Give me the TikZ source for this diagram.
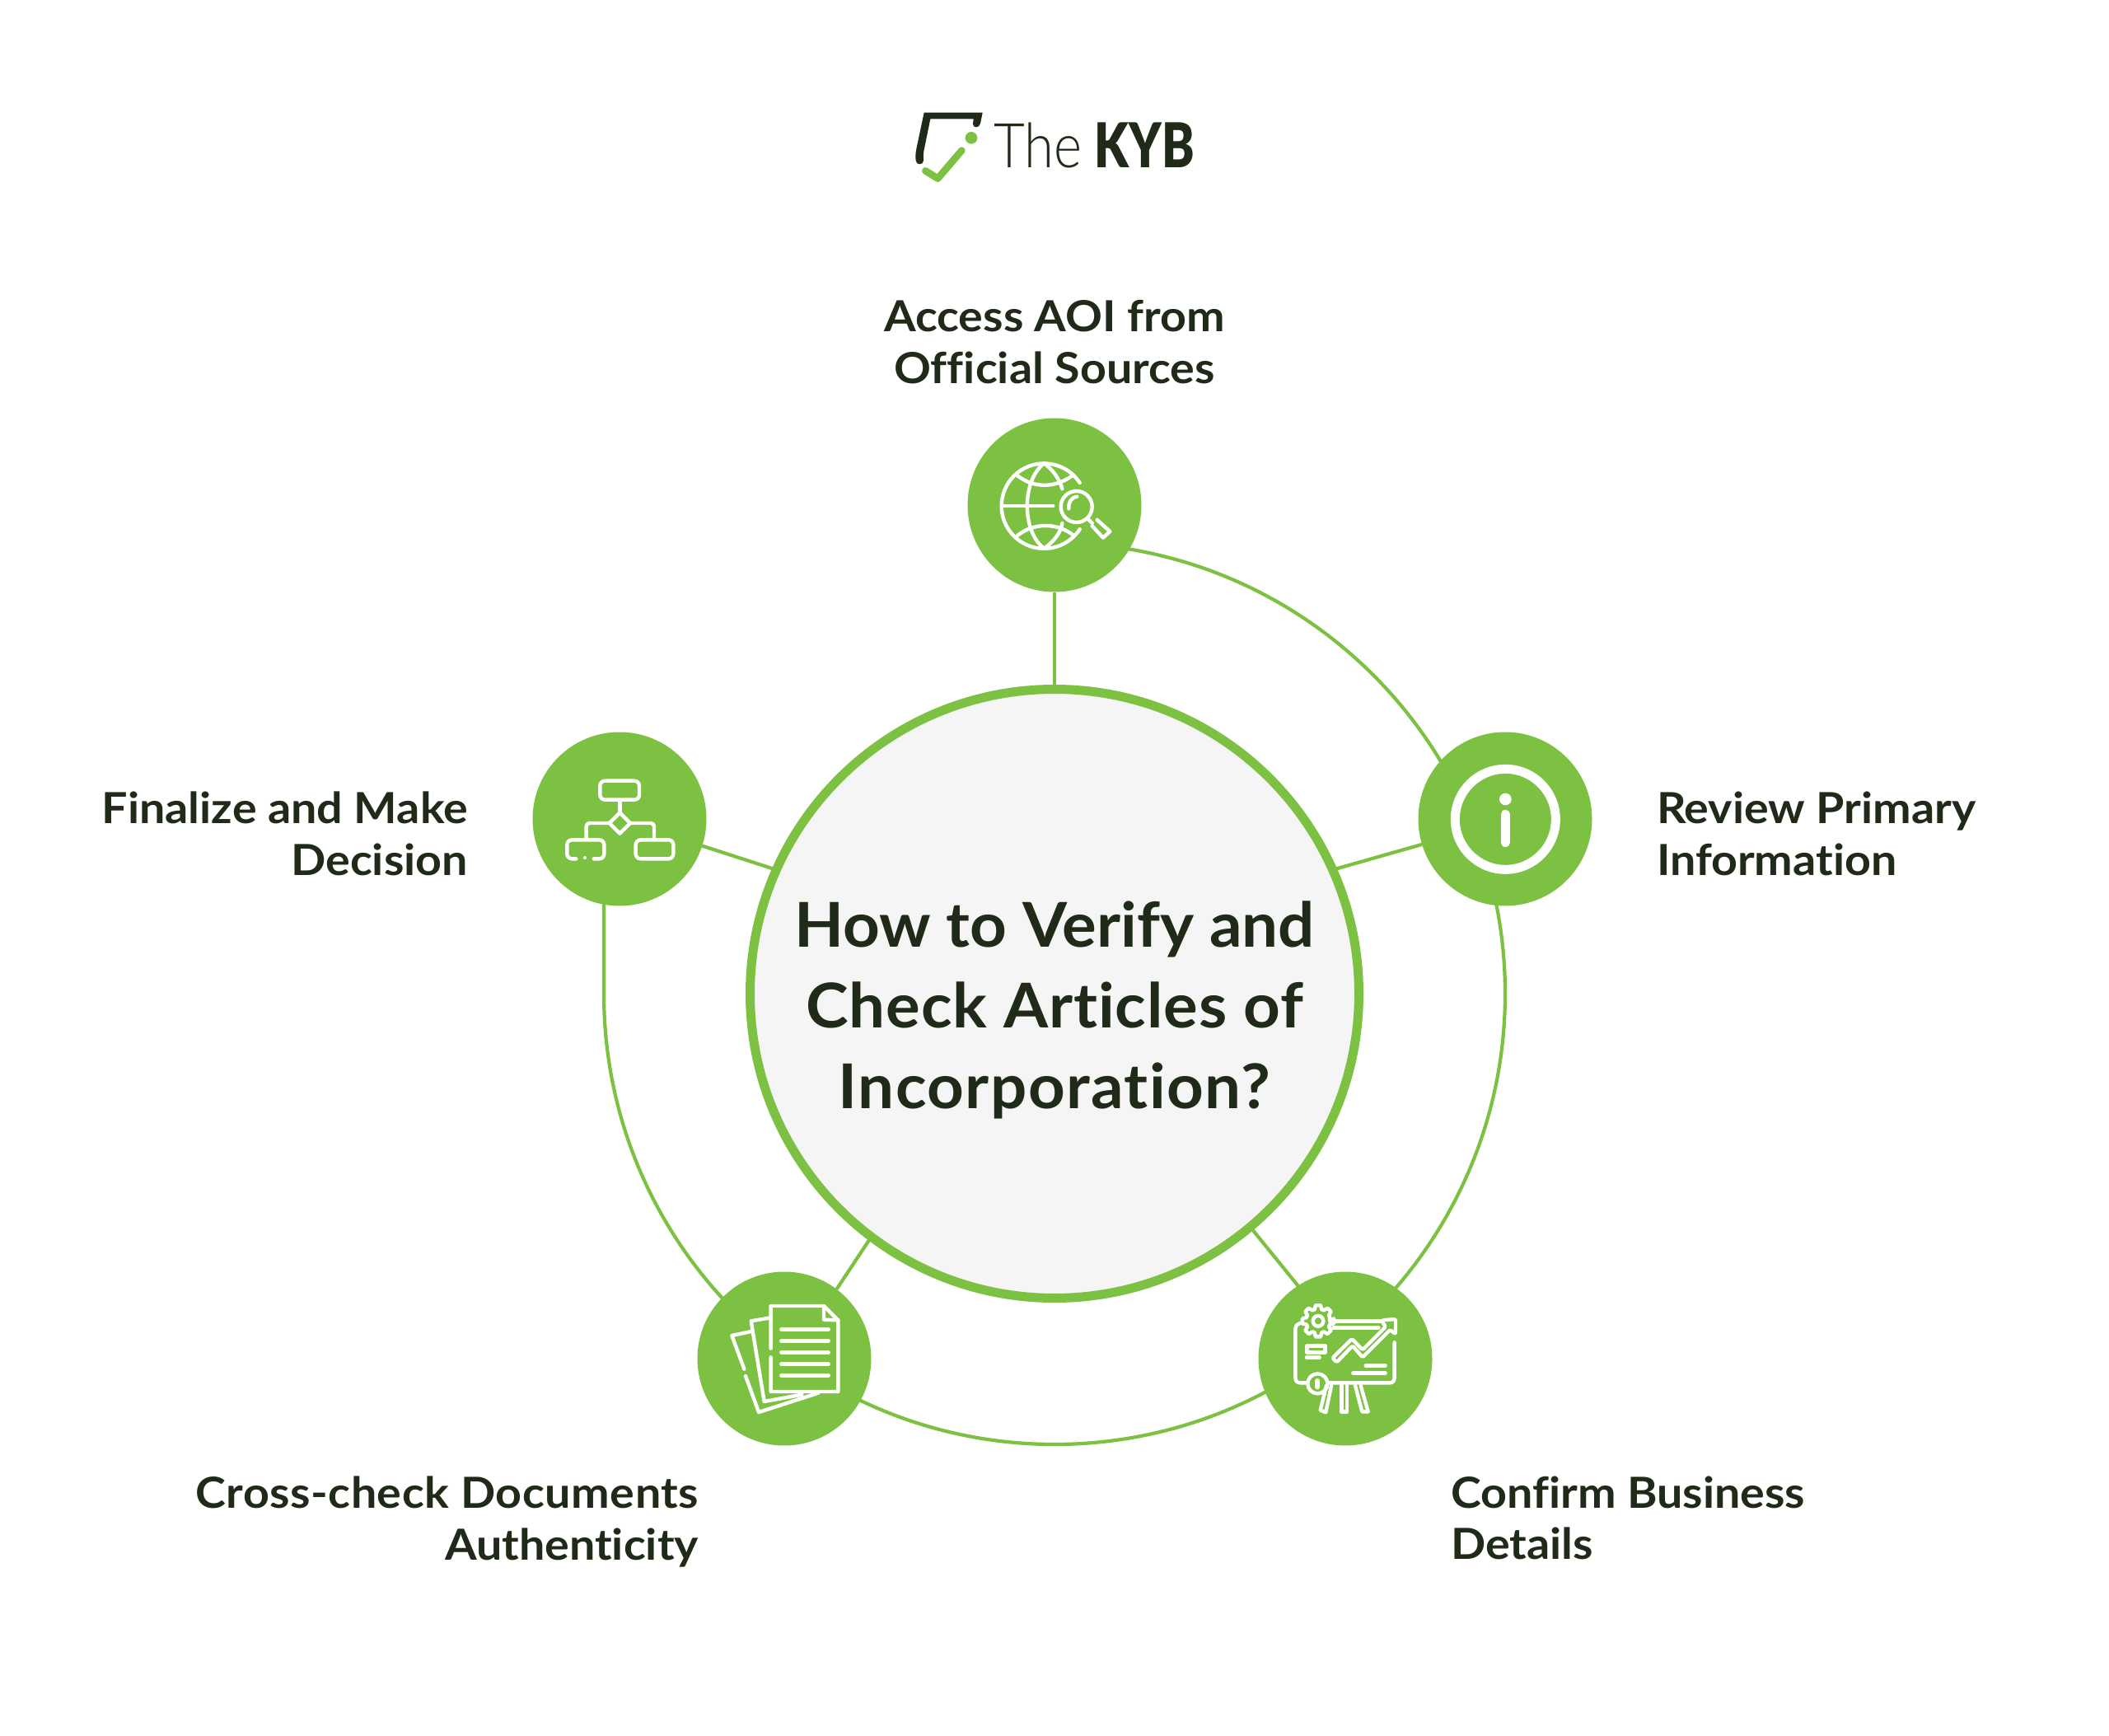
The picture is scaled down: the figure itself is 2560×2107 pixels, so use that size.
\documentclass[tikz,border=0pt]{standalone}
\usepackage{fontspec}
\usetikzlibrary{backgrounds}
\setmainfont{Lato}
\newfontfamily\labelface{Lato Bold}[FakeStretch=1.07,Ligatures=NoCommon]
\newfontfamily\titleface{Lato Bold}[FakeStretch=1.04,Ligatures=NoCommon]
\newfontfamily\logolight{Lato Light}[FakeStretch=0.87]
\newfontfamily\logoblack{Lato Black}[FakeStretch=0.79]
\definecolor{kybgreen}{HTML}{7CC142}
\definecolor{kybdark}{HTML}{1F2A18}
\definecolor{hubgrey}{HTML}{F5F5F5}
\tikzset{
  stepdisc/.style={circle,fill=kybgreen,minimum size=105.5pt,inner sep=0pt,outer sep=0pt},
  linkline/.style={draw=kybgreen,line width=2.1pt},
  steplabel/.style={inner sep=0pt,outer sep=0pt,font=\fontsize{26}{31.4}\labelface,text=kybdark},
  iconline/.style={draw=white,line width=2.2pt,line cap=round,line join=round},
  icon/.style={x=0.16667pt,y=-0.16667pt}
}
\begin{document}
\begin{tikzpicture}[x=0.5pt,y=-0.5pt]
\useasboundingbox (0,0) rectangle (2560,2107);

% Central hub and its title
\node[circle,draw=kybgreen,line width=5.5pt,fill=hubgrey,minimum size=369.5pt,inner sep=0pt,outer sep=0pt] (hub) at (1280,1206) {};
\node[inner sep=0pt,align=center,text=kybdark,font=\fontsize{37.5}{49}\titleface] (title) at (1280,1226) {How to Verify and\\{\addfontfeature{LetterSpace=1.2}Check Articles of}\\{\addfontfeature{LetterSpace=1.9}Incorporation?}};

% Step discs
\node[stepdisc] (access) at (1280,613) {};
\node[stepdisc] (review) at (1827,994) {};
\node[stepdisc] (confirm) at (1633,1649) {};
\node[stepdisc] (crosscheck) at (952,1649) {};
\node[stepdisc] (finalize) at (752,994) {};

% Connectors
\coordinate (ringstart) at (733,1090);
\coordinate (ringleft) at (733,1206);
\begin{pgfonlayer}{background}
  \draw[linkline] (ringstart) -- (ringleft) arc[start angle=180,end angle=-90,radius=547];
\end{pgfonlayer}
\draw[linkline] (hub) -- (access);
\draw[linkline] (hub.24) -- (review.197);
\draw[linkline] (hub.-50) -- (confirm.123);
\draw[linkline] (hub.233.7) -- (crosscheck.53.5);
\draw[linkline] (hub.156.2) -- (finalize.-18);

% Step labels
\node[steplabel,align=center,anchor=center] (lblaccess) at (1280,415) {Access AOI from\\Official Sources};
\node[steplabel,align=left,anchor=west] (lblreview) at (2011,1012) {Review Primary\\Information};
\node[steplabel,align=left,anchor=west] (lblconfirm) at (1761,1842.5) {Confirm Business\\Details};
\node[steplabel,align=right,anchor=east] (lblcross) at (848,1847) {\addfontfeature{LetterSpace=1.0}Cross-check Documents\\Authenticity};
\node[steplabel,align=right,anchor=east] (lblfinal) at (568,1012) {Finalize and Make\\Decision};

% Logo mark
\begin{scope}[shift={(1080,110)},icon]
  \fill[kybdark] (125,80) -- (338,80) -- (330,120) .. controls (327,137) and (302,137) .. (303,122) -- (305,103) -- (148,103) -- (125,215) .. controls (122,232) and (122,245) .. (123,255) .. controls (122,272) and (96,272) .. (95,255) .. controls (93,240) and (94,228) .. (97,212) -- cycle;
  \fill[kybgreen] (297,172) circle (22);
  \draw[kybgreen,line width=4.3pt,line cap=round,line join=round] (130,292) -- (175,320) -- (262,218);
\end{scope}
\node[inner sep=0pt,anchor=base west,text=kybdark,font=\fontsize{37.5}{37}\logolight] (logothe) at (1206,204) {The};
\node[inner sep=0pt,anchor=base west,text=kybdark,font=\fontsize{37.5}{37}\logoblack] (logokyb) at (1328,204) {KYB};

% Globe with magnifier
\begin{scope}[shift={(1160,500)},icon,iconline]
  \draw (452,258) arc[start angle=-33,end angle=-327,radius=155];
  \draw (322,187) .. controls (240,250) and (240,435) .. (322,497);
  \draw (322,187) .. controls (360,215) and (380,250) .. (388,280);
  \draw (322,497) .. controls (360,470) and (382,440) .. (388,405);
  \draw (175,342) -- (355,342);
  \draw (225,232) .. controls (285,278) and (360,278) .. (425,232);
  \draw (225,450) .. controls (285,402) and (370,402) .. (430,450);
  \draw (440,345) circle (57);
  \draw (412,352) .. controls (410,330) and (420,312) .. (442,308);
  \draw (480,388) -- (497,405);
  \draw (515,393) -- (562,435) -- (537,458) -- (497,415);
\end{scope}

% Information mark
\begin{scope}[shift={(1710,880)},icon]
  \draw[white,line width=5.5pt] (352,343) circle (183);
  \fill[white] (352,270) circle (22);
  \draw[white,line width=5.5pt,line cap=round] (352,325) -- (352,428);
\end{scope}

% Presentation board
\begin{scope}[shift={(1510,1540)},icon,iconline]
  \draw (225,190) -- (200,200) .. controls (190,205) and (187,210) .. (187,220) -- (187,395) .. controls (187,410) and (195,415) .. (205,415) -- (235,415);
  \draw (300,415) -- (530,415) .. controls (543,415) and (548,408) .. (548,395) -- (548,268);
  \draw (325,190) -- (505,190);
  \draw (325,215) -- (490,215);
  \draw[rounded corners=0.8pt] (322,325) -- (393,255) -- (432,295) -- (515,212) -- (502,187) -- (552,183) -- (552,238) -- (532,222) -- (432,322) -- (395,280) -- (338,340) -- cycle;
  \draw (230,280) rectangle (295,305);
  \draw (228,323) -- (275,323);
  \draw (443,352) -- (515,352);
  \draw (397,380) -- (515,380);
  \draw[fill=kybgreen] (268,418) circle (36);
  \draw[line width=3pt] (268,408) -- (268,430);
  \draw (300,425) -- (278,515) -- (298,522) -- (318,425);
  \draw (355,425) -- (355,520) -- (375,520) -- (375,425);
  \draw (405,425) -- (430,520) -- (452,520) -- (425,425);
  \begin{scope}[shift={(270,190)}]
    \draw[fill=kybgreen] (0:42)
      \foreach \a in {0,45,...,315} {
        -- (\a-9:58) -- (\a+9:58) -- (\a+17:44) -- (\a+28:44)
      } -- cycle;
    \draw (0,0) circle (19);
  \end{scope}
\end{scope}

% Stack of documents
\begin{scope}[shift={(840,1540)},icon,iconline]
  \draw (287,290) -- (287,135) -- (480,135) -- (532,187) -- (532,447) -- (287,447) -- (287,322);
  \draw (480,135) -- (480,185) -- (532,187);
  \foreach \y in {221,263,305,347,388} \draw (325,\y) -- (497,\y);
  \draw (285,178) -- (215,190) -- (263,483) -- (400,458);
  \draw (215,228) -- (145,243) -- (190,365);
  \draw (195,390) -- (243,522) -- (460,452);
\end{scope}

% Flowchart
\begin{scope}[shift={(630,880)},icon,iconline]
  \draw[rounded corners=3pt] (295,203) rectangle (438,272);
  \draw (367,272) -- (367,320);
  \draw (367,319) -- (405,357) -- (367,395) -- (329,357) -- cycle;
  \draw[rounded corners=2pt] (329,357) -- (245,357) -- (245,415);
  \draw[rounded corners=2pt] (405,357) -- (492,357) -- (492,415);
  \draw[rounded corners=3pt] (208,487) -- (175,487) -- (175,418) -- (310,418) -- (310,487) -- (272,487);
  \fill[white] (240,483) circle (6);
  \draw[rounded corners=3pt] (425,418) rectangle (562,487);
\end{scope}
\end{tikzpicture}
\end{document}
